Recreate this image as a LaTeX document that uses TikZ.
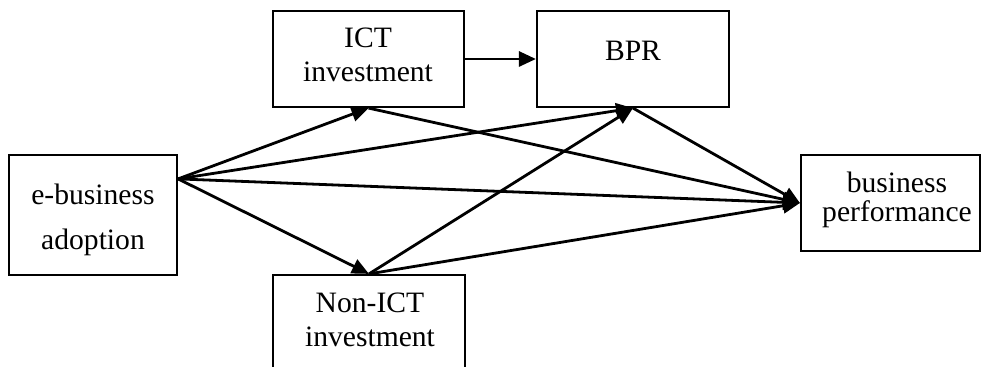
\documentclass[tikz,border=0pt]{standalone}
\usepackage{fontspec}
\setmainfont{Liberation Serif}
\usetikzlibrary{arrows.meta,fit,calc}
\begin{document}
\begin{tikzpicture}[x=0.5pt,y=-0.5pt,
  box/.style={draw,line width=1.1pt,inner sep=0pt,rectangle},
  lbl/.style={anchor=base,inner sep=0pt,font=\fontsize{14.8}{17}\selectfont},
  arr/.style={line width=1.4pt,-{Triangle[length=8.5pt,width=7.5pt]}}]
\useasboundingbox (0,0) rectangle (984,367);
\node[box,fit={(9,155) (177,275)}] (e) {};
\node[box,fit={(273,11) (464,107)}] (ict) {};
\node[box,fit={(537,11) (729,107)}] (bpr) {};
\node[box,fit={(801,155) (980,251)}] (bp) {};
\node[box,fit={(273,275) (465,371)}] (non) {};
% labels
\node[lbl] (e1) at (93,205) {e-business};
\node[lbl] (e2) at (93,250) {adoption};
\node[lbl] (i1) at (368,48) {ICT};
\node[lbl] (i2) at (368,82) {investment};
\node[lbl] (b1) at (633,61) {BPR};
\node[lbl] (p1) at (897,193) {business};
\node[lbl] (p2) at (897,222) {performance};
\node[lbl] (n1) at (370,313) {Non-ICT};
\node[lbl] (n2) at (370,347) {investment};
% connectors
\coordinate (eo) at ($(e.north east)+(0,25)$);
\draw[arr] (eo) -- (ict.south);
\draw[arr] (eo) -- (bpr.south);
\draw[arr] (eo) -- (bp.west);
\draw[arr] (eo) -- (non.north);
\draw[arr] (ict.east) -- (bpr.west);
\draw[arr] (ict.south) -- (bp.west);
\draw[arr] (bpr.south) -- (bp.west);
\draw[arr] (non.north) -- (bpr.south);
\draw[arr] (non.north) -- (bp.west);
\end{tikzpicture}
\end{document}
